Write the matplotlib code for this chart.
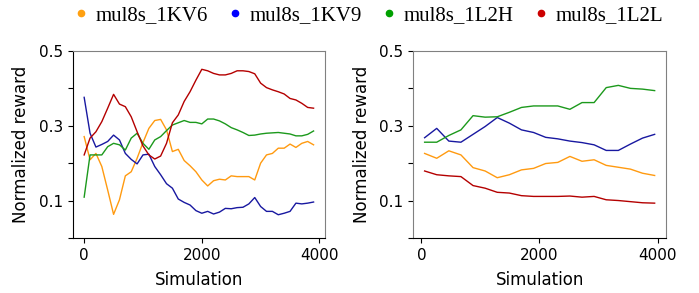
import matplotlib
matplotlib.use("Agg")
import matplotlib.pyplot as plt
from matplotlib.lines import Line2D

series_names = ["mul8s_1KV6", "mul8s_1KV9", "mul8s_1L2H", "mul8s_1L2L"]
line_colors = ["#ff9a10", "#1818a0", "#1c991c", "#b40000"]
dot_colors = ["#ffa010", "#0000ff", "#00a000", "#cc0000"]

# Left panel
x_left = [0, 100, 200, 300, 400, 500, 600, 700, 800, 900, 1000, 1100, 1200, 1300,
          1400, 1500, 1600, 1700, 1800, 1900, 2000, 2100, 2200, 2300, 2400, 2500,
          2600, 2700, 2800, 2900, 3000, 3100, 3200, 3300, 3400, 3500, 3600, 3700,
          3800, 3900]
kv6_left = [0.271, 0.209, 0.226, 0.191, 0.128, 0.063, 0.102, 0.166, 0.177, 0.213,
            0.255, 0.293, 0.314, 0.317, 0.289, 0.231, 0.237, 0.207, 0.193, 0.177,
            0.155, 0.139, 0.153, 0.157, 0.155, 0.166, 0.164, 0.164, 0.164, 0.155,
            0.200, 0.222, 0.226, 0.240, 0.240, 0.251, 0.242, 0.253, 0.258, 0.249]
kv9_left = [0.376, 0.280, 0.243, 0.250, 0.258, 0.275, 0.262, 0.226, 0.210, 0.198,
            0.222, 0.224, 0.191, 0.169, 0.145, 0.133, 0.104, 0.095, 0.088, 0.073,
            0.066, 0.071, 0.064, 0.069, 0.079, 0.078, 0.081, 0.082, 0.091, 0.108,
            0.084, 0.071, 0.071, 0.062, 0.066, 0.071, 0.093, 0.091, 0.093, 0.096]
l2h_left = [0.109, 0.222, 0.222, 0.222, 0.244, 0.253, 0.249, 0.235, 0.267, 0.280,
            0.253, 0.237, 0.262, 0.271, 0.287, 0.302, 0.308, 0.314, 0.309, 0.309,
            0.305, 0.318, 0.318, 0.313, 0.305, 0.295, 0.289, 0.282, 0.274, 0.275,
            0.278, 0.280, 0.281, 0.282, 0.280, 0.278, 0.273, 0.273, 0.277, 0.286]
l2l_left = [0.222, 0.267, 0.284, 0.311, 0.347, 0.384, 0.358, 0.351, 0.324, 0.284,
            0.246, 0.222, 0.211, 0.219, 0.253, 0.308, 0.329, 0.365, 0.391, 0.422,
            0.451, 0.447, 0.440, 0.436, 0.436, 0.440, 0.447, 0.447, 0.445, 0.439,
            0.414, 0.402, 0.396, 0.391, 0.385, 0.373, 0.369, 0.360, 0.349, 0.347]

# Right panel
x_right = [55, 260, 465, 670, 875, 1080, 1285, 1490, 1695, 1900, 2105, 2310, 2515,
           2720, 2925, 3130, 3335, 3540, 3745, 3950]
kv6_right = [0.226, 0.213, 0.233, 0.222, 0.188, 0.179, 0.161, 0.169, 0.182, 0.186,
             0.199, 0.202, 0.218, 0.205, 0.209, 0.194, 0.189, 0.184, 0.173, 0.167]
kv9_right = [0.268, 0.293, 0.259, 0.256, 0.277, 0.298, 0.322, 0.307, 0.289, 0.282,
             0.269, 0.265, 0.259, 0.255, 0.249, 0.234, 0.234, 0.251, 0.267, 0.277]
l2h_right = [0.256, 0.256, 0.274, 0.289, 0.327, 0.323, 0.324, 0.336, 0.349, 0.353,
             0.353, 0.353, 0.344, 0.362, 0.362, 0.402, 0.408, 0.400, 0.398, 0.394]
l2l_right = [0.179, 0.169, 0.166, 0.164, 0.140, 0.133, 0.122, 0.120, 0.113, 0.111,
             0.111, 0.111, 0.112, 0.109, 0.111, 0.102, 0.100, 0.097, 0.094, 0.093]

y_ticks = [0.0, 0.1, 0.2, 0.3, 0.4, 0.5]
y_ticklabels = ["", "0.1", "", "0.3", "", "0.5"]
x_ticks = [0, 2000, 4000]
x_ticklabels = ["0", "2000", "4000"]

plt.rcParams['font.family'] = ['DejaVu Sans']
fig = plt.figure(figsize=(6.99, 2.93), dpi=100)
ax1 = fig.add_axes([0.104, 0.188, 0.361, 0.638])
ax2 = fig.add_axes([0.591, 0.188, 0.362, 0.638])

panels = [
    (ax1, x_left, [kv6_left, kv9_left, l2h_left, l2l_left], "black"),
    (ax2, x_right, [kv6_right, kv9_right, l2h_right, l2l_right], "#808080"),
]
for ax, xs, ys_list, left_col in panels:
    for ys, c in zip(ys_list, line_colors):
        ax.plot(xs, ys, color=c, lw=1.0)
    ax.set_ylim(0, 0.5)
    ax.set_yticks(y_ticks)
    ax.set_yticklabels(y_ticklabels)
    ax.set_xticks(x_ticks)
    ax.set_xticklabels(x_ticklabels)
    ax.tick_params(labelsize=11, length=3.5, width=0.8)
    ax.set_xlabel("Simulation", fontsize=12, labelpad=6)
    ax.set_ylabel("Normalized reward", fontsize=12, labelpad=6)
    ax.spines['top'].set_color("#808080")
    ax.spines['right'].set_color("#808080")
    ax.spines['left'].set_color(left_col)
    ax.spines['bottom'].set_color("black")

handles = [Line2D([0], [0], marker='o', color='none', markerfacecolor=c,
                  markeredgecolor=c, markersize=4.5, linestyle='None')
           for c in dot_colors]
fig.legend(handles, series_names, loc='upper center', bbox_to_anchor=(0.528, 1.045),
           ncol=4, frameon=False, prop={'family': 'Liberation Serif', 'size': 15},
           handlelength=0.6, handletextpad=0.4, columnspacing=1.0)

fig.savefig("out.png", dpi=100)
